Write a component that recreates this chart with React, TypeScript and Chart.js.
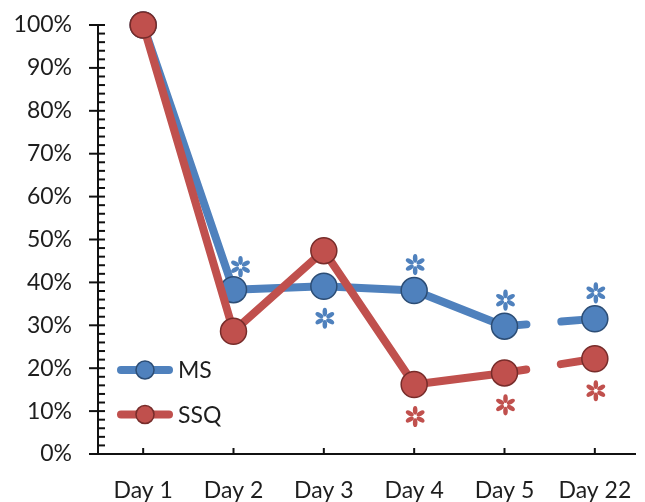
import { useEffect, useRef } from 'react';
import { Chart, registerables } from 'chart.js';

Chart.register(...registerables);

// Share of participants over the follow-up days
const days = ['Day 1', 'Day 2', 'Day 3', 'Day 4', 'Day 5', 'Day 22'];
const msValues = [100, 38.3, 39.1, 38.1, 29.8, 31.5];
const ssqValues = [100, 28.6, 47.4, 16.2, 18.9, 22.2];

// Significance markers per day: where the asterisk sits relative to the point
const msStars = ['', 'aboveRight', 'below', 'above', 'above', 'above'];
const ssqStars = ['', '', '', 'below', 'below', 'below'];

// Y axis: major tick values and minor step (in %)
const percentTicks = [0, 10, 20, 30, 40, 50, 60, 70, 80, 90, 100];
const minorStep = 2;

// The line is interrupted between these days (time gap on the axis)
const breakAfter = 'Day 5';

const BLUE = '#4f81bd';
const BLUE_EDGE = '#2c4d75';
const RED = '#c0504d';
const RED_EDGE = '#772c2a';
const TEXT = '#1e1e1e';
const FONT = { family: 'Lato', size: 23 };

function drawAsterisk(ctx: CanvasRenderingContext2D, x: number, y: number, color: string) {
  ctx.save();
  ctx.fillStyle = color;
  for (let k = 0; k < 6; k++) {
    const a = (k * Math.PI) / 3 - Math.PI / 2;
    ctx.beginPath();
    ctx.ellipse(x + Math.cos(a) * 6.2, y + Math.sin(a) * 6.2, 4.4, 2.3, a, 0, Math.PI * 2);
    ctx.fill();
  }
  ctx.restore();
}

const axesPlugin = {
  id: 'officeAxes',
  beforeDatasetsDraw(chart: any) {
    const { ctx, chartArea, scales } = chart;
    const x = scales.x;
    const y = scales.y;
    const left = chartArea.left;
    const bottom = y.getPixelForValue(0);
    const top = y.getPixelForValue(100);
    ctx.save();
    ctx.strokeStyle = '#111';
    ctx.lineWidth = 2;
    ctx.lineCap = 'butt';
    // y axis line
    ctx.beginPath();
    ctx.moveTo(left, top);
    ctx.lineTo(left, bottom);
    ctx.stroke();
    // x axis line
    ctx.beginPath();
    ctx.moveTo(left - 9, bottom);
    ctx.lineTo(chartArea.right - 4, bottom);
    ctx.stroke();
    // major y ticks (cross)
    percentTicks.forEach((v) => {
      const py = y.getPixelForValue(v);
      ctx.beginPath();
      ctx.moveTo(left - 9, py);
      ctx.lineTo(left + 7, py);
      ctx.stroke();
    });
    // minor y ticks (inside)
    for (let v = 0; v <= 100; v += minorStep) {
      if (v % 10 === 0) continue;
      const py = y.getPixelForValue(v);
      ctx.beginPath();
      ctx.moveTo(left, py);
      ctx.lineTo(left + 7, py);
      ctx.stroke();
    }
    // x ticks at category centres (inside)
    days.forEach((_, i) => {
      const px = x.getPixelForValue(i);
      ctx.beginPath();
      ctx.moveTo(px, bottom);
      ctx.lineTo(px, bottom - 6);
      ctx.stroke();
    });
    ctx.restore();
  },
};

const starsPlugin = {
  id: 'stars',
  afterDatasetsDraw(chart: any) {
    const { ctx } = chart;
    const sets = [
      { index: 0, marks: msStars, color: BLUE },
      { index: 1, marks: ssqStars, color: RED },
    ];
    sets.forEach(({ index, marks, color }) => {
      const meta = chart.getDatasetMeta(index);
      marks.forEach((m, i) => {
        if (!m) return;
        const pt = meta.data[i];
        if (!pt) return;
        let dx = 1;
        let dy = 0;
        if (m === 'above') dy = -26;
        if (m === 'aboveRight') { dy = -23; dx = 7; }
        if (m === 'below') dy = 32;
        drawAsterisk(ctx, pt.x + dx, pt.y + dy, color);
      });
    });
  },
};

const legendPlugin = {
  id: 'insideLegend',
  afterDatasetsDraw(chart: any) {
    const { ctx, chartArea } = chart;
    const rows = chart.data.datasets;
    ctx.save();
    rows.forEach((ds: any, i: number) => {
      const cy = chartArea.bottom - 84 + i * 44.5;
      const x0 = chartArea.left + 19;
      const x1 = x0 + 56;
      ctx.strokeStyle = ds.borderColor;
      ctx.lineWidth = 8;
      ctx.lineCap = 'round';
      ctx.beginPath();
      ctx.moveTo(x0 + 4, cy);
      ctx.lineTo(x1 - 4, cy);
      ctx.stroke();
      ctx.beginPath();
      ctx.arc((x0 + x1) / 2, cy, 9, 0, Math.PI * 2);
      ctx.fillStyle = ds.pointBackgroundColor;
      ctx.fill();
      ctx.lineWidth = 1.5;
      ctx.strokeStyle = ds.pointBorderColor;
      ctx.stroke();
      ctx.fillStyle = TEXT;
      ctx.font = `${FONT.size}px ${FONT.family}`;
      ctx.textAlign = 'left';
      ctx.textBaseline = 'middle';
      ctx.fillText(ds.label, x1 + 5, cy + 1);
    });
    ctx.restore();
  },
};

const breakIndex = days.indexOf(breakAfter);

function lineDataset(label: string, data: number[], color: string, edge: string, order: number) {
  return {
    label,
    data,
    order,
    borderColor: color,
    backgroundColor: color,
    borderWidth: 8,
    borderCapStyle: 'round' as const,
    borderJoinStyle: 'round' as const,
    pointRadius: 13,
    pointBackgroundColor: color,
    pointBorderColor: edge,
    pointBorderWidth: 1.5,
    tension: 0,
    clip: false as const,
    segment: {
      borderDash: (c: any) => (c.p0DataIndex === breakIndex ? [22, 35, 200] : undefined),
    },
  };
}

export default function App() {
  const canvasRef = useRef<HTMLCanvasElement>(null);

  useEffect(() => {
    const chart = new Chart(canvasRef.current as HTMLCanvasElement, {
      type: 'line',
      data: {
        labels: days,
        datasets: [
          lineDataset('MS', msValues, BLUE, BLUE_EDGE, 1),
          lineDataset('SSQ', ssqValues, RED, RED_EDGE, 0),
        ],
      },
      options: {
        responsive: false,
        animation: false,
        layout: { autoPadding: false, padding: { top: 25, right: 5, left: 0, bottom: 0 } },
        plugins: { legend: { display: false }, tooltip: { enabled: false } },
        scales: {
          x: {
            type: 'category',
            offset: true,
            grid: { display: false, drawTicks: false, offset: false },
            border: { display: false },
            ticks: { font: FONT, color: TEXT, padding: 23, maxRotation: 0, autoSkip: false },
            afterFit: (s: any) => {
              s.height = 48;
              s.paddingLeft = 0;
              s.paddingRight = 0;
            },
          },
          y: {
            min: 0,
            max: 100,
            grid: { display: false, drawTicks: false },
            border: { display: false },
            afterBuildTicks: (s: any) => { s.ticks = percentTicks.map((v) => ({ value: v })); },
            ticks: { font: FONT, color: TEXT, padding: 26, callback: (v: any) => `${v}%` },
            afterFit: (s: any) => {
              s.width = 98;
              s.paddingTop = 0;
              s.paddingBottom = 0;
            },
          },
        },
      },
      plugins: [axesPlugin, starsPlugin, legendPlugin],
    });
    return () => chart.destroy();
  }, []);

  return (
    <div style={{ position: 'fixed', left: 0, top: 0, width: 645, height: 502, background: '#fff' }}>
      <canvas ref={canvasRef} width={645} height={502} />
    </div>
  );
}
